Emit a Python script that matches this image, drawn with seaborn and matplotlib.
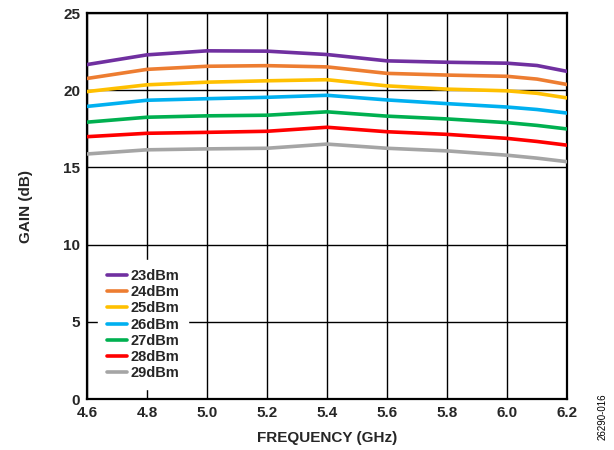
import matplotlib
matplotlib.use("Agg")
import matplotlib.pyplot as plt
import seaborn as sns
import pandas as pd

freq_ghz = [4.6, 4.8, 5.0, 5.2, 5.4, 5.6, 5.8, 6.0, 6.1, 6.2]

gain_23dbm = [21.66, 22.29, 22.55, 22.53, 22.31, 21.90, 21.81, 21.75, 21.60, 21.22]
gain_24dbm = [20.76, 21.35, 21.55, 21.59, 21.51, 21.09, 20.98, 20.90, 20.72, 20.37]
gain_25dbm = [19.91, 20.35, 20.52, 20.61, 20.68, 20.28, 20.07, 19.96, 19.80, 19.50]
gain_26dbm = [18.95, 19.35, 19.45, 19.54, 19.67, 19.37, 19.13, 18.91, 18.75, 18.52]
gain_27dbm = [17.93, 18.25, 18.34, 18.38, 18.60, 18.32, 18.14, 17.90, 17.72, 17.49]
gain_28dbm = [16.99, 17.21, 17.27, 17.34, 17.60, 17.31, 17.14, 16.88, 16.68, 16.44]
gain_29dbm = [15.87, 16.14, 16.20, 16.24, 16.51, 16.24, 16.07, 15.79, 15.60, 15.37]

series_labels = ["23dBm", "24dBm", "25dBm", "26dBm", "27dBm", "28dBm", "29dBm"]
series_colors = ["#7030A0", "#ED7D31", "#FFC000", "#00B0F0", "#00B050", "#FF0000", "#A5A5A5"]

x_ticks = [4.6, 4.8, 5.0, 5.2, 5.4, 5.6, 5.8, 6.0, 6.2]
y_ticks = [0, 5, 10, 15, 20, 25]

all_gains = [gain_23dbm, gain_24dbm, gain_25dbm, gain_26dbm,
             gain_27dbm, gain_28dbm, gain_29dbm]
df = pd.concat(
    [pd.DataFrame({"freq": freq_ghz, "gain": g, "power": lab})
     for g, lab in zip(all_gains, series_labels)],
    ignore_index=True,
)

sns.set_theme(style="white")
plt.rcParams["font.family"] = ["Liberation Sans", "DejaVu Sans"]

fig = plt.figure(figsize=(6.14, 4.5), dpi=100)
ax = fig.add_axes([0.1417, 0.1133, 0.7818, 0.8578])

sns.lineplot(data=df, x="freq", y="gain", hue="power",
             palette=dict(zip(series_labels, series_colors)),
             hue_order=series_labels, linewidth=2.6, ax=ax, zorder=3)

ax.set_xlim(4.6, 6.2)
ax.set_ylim(0, 25)
ax.set_xticks(x_ticks)
ax.set_xticklabels([f"{v:.1f}" for v in x_ticks])
ax.set_yticks(y_ticks)
ax.grid(True, color="black", linewidth=1.0, zorder=1)
ax.set_axisbelow(True)
for s in ax.spines.values():
    s.set_color("black")
    s.set_linewidth(1.6)
ax.tick_params(axis="both", length=0, pad=5, labelsize=11)
for t in ax.get_xticklabels() + ax.get_yticklabels():
    t.set_fontweight("bold")

ax.set_xlabel("FREQUENCY (GHz)", fontsize=11, fontweight="bold", labelpad=8)
ax.set_ylabel("GAIN (dB)", fontsize=11, fontweight="bold", labelpad=22)

leg = ax.legend(loc="lower left", bbox_to_anchor=(0.023, 0.026), frameon=True,
                fancybox=False, framealpha=1.0, edgecolor="white",
                prop={"weight": "bold", "size": 10.5}, handlelength=1.4,
                handletextpad=0.2, labelspacing=0.15, borderpad=0.6,
                borderaxespad=0.0)
leg.set_zorder(5)
for line in leg.get_lines():
    line.set_linewidth(2.6)

fig.text(0.982, 0.075, "26290-016", rotation=90, fontsize=7,
         ha="center", va="center", color="black")

fig.savefig("out.png", dpi=100)
